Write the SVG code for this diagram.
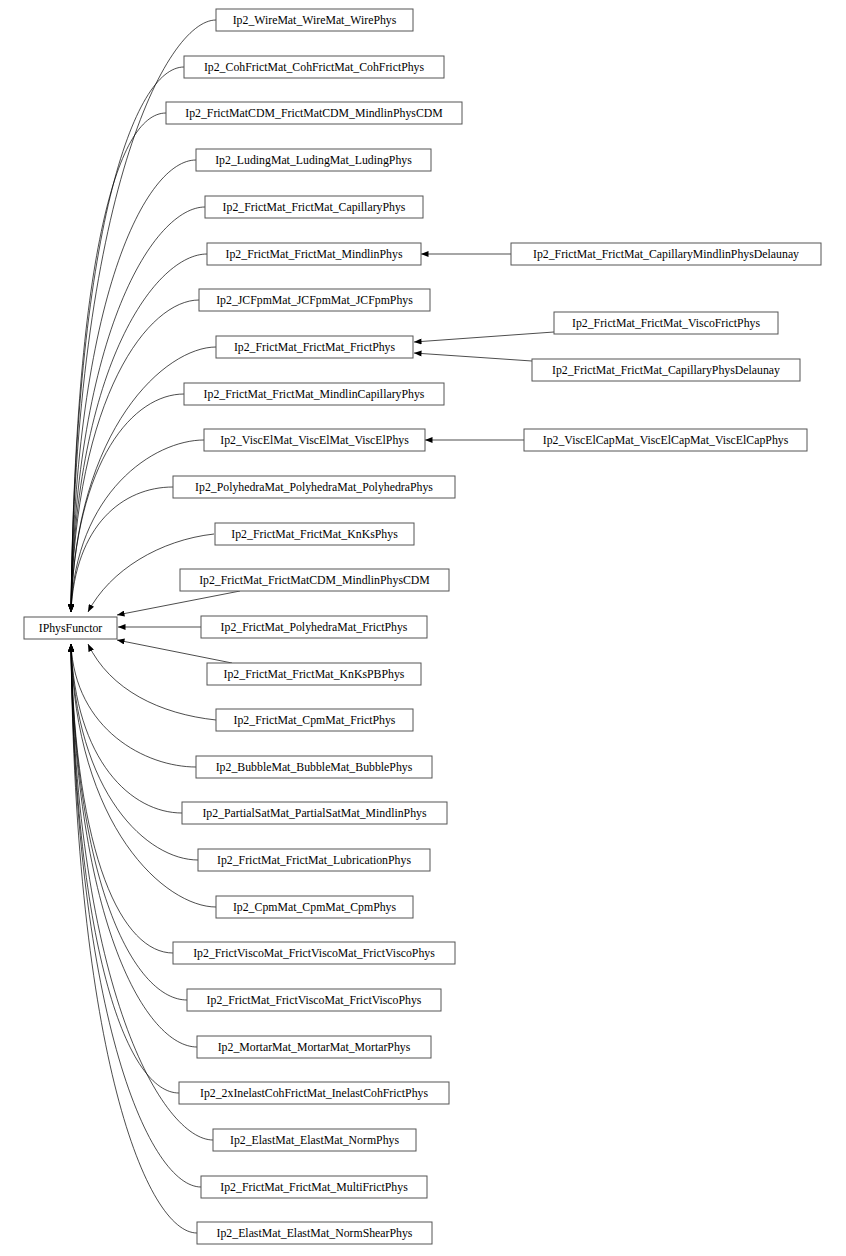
<svg xmlns="http://www.w3.org/2000/svg" width="846" height="1256" viewBox="0 0 846 1256">
<style>
g rect{fill:#fff;stroke:#555;stroke-width:1}
text{font-family:"Liberation Serif",serif;font-size:11.8px;text-anchor:middle;fill:#000}
#edges path{fill:none;stroke:#000;stroke-width:0.7;marker-end:url(#a)}
</style>
<defs><marker id="a" viewBox="0 0 10 8" refX="10" refY="4" markerWidth="8" markerHeight="6" markerUnits="userSpaceOnUse" orient="auto"><path d="M0,0L10,4L0,8z" fill="#000"/></marker></defs>
<rect width="846" height="1256" fill="#fff"/>
<g id="edges">
<path d="M216,20 C166,20 75,198 71,612"/>
<path d="M184,67 C134,67 75,230 71,612"/>
<path d="M166,113 C116,113 75,263 71,612"/>
<path d="M196,160 C146,160 75,296 71,612"/>
<path d="M205,207 C155,207 75,329 71,612"/>
<path d="M207,254 C157,254 75,361 71,612"/>
<path d="M199,300 C149,300 75,394 71,612"/>
<path d="M216,347 C166,347 75,427 71,612"/>
<path d="M184,394 C134,394 75,459 71,612"/>
<path d="M204,440 C154,440 75,492 71,612"/>
<path d="M173,487 C123,487 75,525 71,612"/>
<path d="M214,534 C160,540 110,570 88,612"/>
<path d="M240,591 L117,615"/>
<path d="M201,627 L118,627"/>
<path d="M232,663 L117,640"/>
<path d="M216,720 C160,714 110,690 88,644"/>
<path d="M196,767 C146,767 75,730 71,644"/>
<path d="M182,813 C132,813 75,762 71,644"/>
<path d="M198,860 C148,860 75,795 71,644"/>
<path d="M216,907 C166,907 75,828 71,644"/>
<path d="M173,953 C123,953 75,860 71,644"/>
<path d="M187,1000 C137,1000 75,893 71,644"/>
<path d="M197,1047 C147,1047 75,926 71,644"/>
<path d="M179,1093 C129,1093 75,958 71,644"/>
<path d="M213,1140 C163,1140 75,991 71,644"/>
<path d="M201,1187 C151,1187 75,1024 71,644"/>
<path d="M197,1233 C147,1233 75,1056 71,644"/>
<path d="M511,254 L421,254"/>
<path d="M554,332 L414,342"/>
<path d="M532,361 L414,353"/>
<path d="M524,440 L425,440"/>
</g>
<g id="IPhysFunctor"><rect x="24" y="617" width="93" height="22"/><text x="70.5" y="632">IPhysFunctor</text></g>
<g id="n0"><rect x="216" y="9" width="197" height="22"/><text x="314.5" y="24">Ip2_WireMat_WireMat_WirePhys</text></g>
<g id="n1"><rect x="184" y="56" width="260" height="22"/><text x="314" y="71">Ip2_CohFrictMat_CohFrictMat_CohFrictPhys</text></g>
<g id="n2"><rect x="166" y="102" width="296" height="22"/><text x="314" y="117">Ip2_FrictMatCDM_FrictMatCDM_MindlinPhysCDM</text></g>
<g id="n3"><rect x="196" y="149" width="235" height="22"/><text x="313.5" y="164">Ip2_LudingMat_LudingMat_LudingPhys</text></g>
<g id="n4"><rect x="205" y="196" width="218" height="22"/><text x="314" y="211">Ip2_FrictMat_FrictMat_CapillaryPhys</text></g>
<g id="n5"><rect x="207" y="243" width="214" height="22"/><text x="314" y="258">Ip2_FrictMat_FrictMat_MindlinPhys</text></g>
<g id="n6"><rect x="199" y="289" width="231" height="22"/><text x="314.5" y="304">Ip2_JCFpmMat_JCFpmMat_JCFpmPhys</text></g>
<g id="n7"><rect x="216" y="336" width="197" height="22"/><text x="314.5" y="351">Ip2_FrictMat_FrictMat_FrictPhys</text></g>
<g id="n8"><rect x="184" y="383" width="260" height="22"/><text x="314" y="398">Ip2_FrictMat_FrictMat_MindlinCapillaryPhys</text></g>
<g id="n9"><rect x="204" y="429" width="221" height="22"/><text x="314.5" y="444">Ip2_ViscElMat_ViscElMat_ViscElPhys</text></g>
<g id="n10"><rect x="173" y="476" width="282" height="22"/><text x="314" y="491">Ip2_PolyhedraMat_PolyhedraMat_PolyhedraPhys</text></g>
<g id="n11"><rect x="215" y="523" width="199" height="22"/><text x="314.5" y="538">Ip2_FrictMat_FrictMat_KnKsPhys</text></g>
<g id="n12"><rect x="180" y="569" width="269" height="22"/><text x="314.5" y="584">Ip2_FrictMat_FrictMatCDM_MindlinPhysCDM</text></g>
<g id="n13"><rect x="201" y="616" width="226" height="22"/><text x="314" y="631">Ip2_FrictMat_PolyhedraMat_FrictPhys</text></g>
<g id="n14"><rect x="207" y="663" width="214" height="22"/><text x="314" y="678">Ip2_FrictMat_FrictMat_KnKsPBPhys</text></g>
<g id="n15"><rect x="216" y="709" width="197" height="22"/><text x="314.5" y="724">Ip2_FrictMat_CpmMat_FrictPhys</text></g>
<g id="n16"><rect x="196" y="756" width="236" height="22"/><text x="314" y="771">Ip2_BubbleMat_BubbleMat_BubblePhys</text></g>
<g id="n17"><rect x="182" y="802" width="265" height="22"/><text x="314.5" y="817">Ip2_PartialSatMat_PartialSatMat_MindlinPhys</text></g>
<g id="n18"><rect x="198" y="849" width="232" height="22"/><text x="314" y="864">Ip2_FrictMat_FrictMat_LubricationPhys</text></g>
<g id="n19"><rect x="216" y="896" width="197" height="22"/><text x="314.5" y="911">Ip2_CpmMat_CpmMat_CpmPhys</text></g>
<g id="n20"><rect x="173" y="942" width="282" height="22"/><text x="314" y="957">Ip2_FrictViscoMat_FrictViscoMat_FrictViscoPhys</text></g>
<g id="n21"><rect x="187" y="989" width="254" height="22"/><text x="314" y="1004">Ip2_FrictMat_FrictViscoMat_FrictViscoPhys</text></g>
<g id="n22"><rect x="197" y="1036" width="234" height="22"/><text x="314" y="1051">Ip2_MortarMat_MortarMat_MortarPhys</text></g>
<g id="n23"><rect x="179" y="1082" width="270" height="22"/><text x="314" y="1097">Ip2_2xInelastCohFrictMat_InelastCohFrictPhys</text></g>
<g id="n24"><rect x="213" y="1129" width="203" height="22"/><text x="314.5" y="1144">Ip2_ElastMat_ElastMat_NormPhys</text></g>
<g id="n25"><rect x="201" y="1176" width="226" height="22"/><text x="314" y="1191">Ip2_FrictMat_FrictMat_MultiFrictPhys</text></g>
<g id="n26"><rect x="197" y="1222" width="235" height="22"/><text x="314.5" y="1237">Ip2_ElastMat_ElastMat_NormShearPhys</text></g>
<g id="r1"><rect x="511" y="243" width="310" height="22"/><text x="666" y="258">Ip2_FrictMat_FrictMat_CapillaryMindlinPhysDelaunay</text></g>
<g id="r2"><rect x="554" y="312" width="224" height="22"/><text x="666" y="327">Ip2_FrictMat_FrictMat_ViscoFrictPhys</text></g>
<g id="r3"><rect x="532" y="359" width="268" height="22"/><text x="666" y="374">Ip2_FrictMat_FrictMat_CapillaryPhysDelaunay</text></g>
<g id="r4"><rect x="524" y="429" width="283" height="22"/><text x="665.5" y="444">Ip2_ViscElCapMat_ViscElCapMat_ViscElCapPhys</text></g>
</svg>
